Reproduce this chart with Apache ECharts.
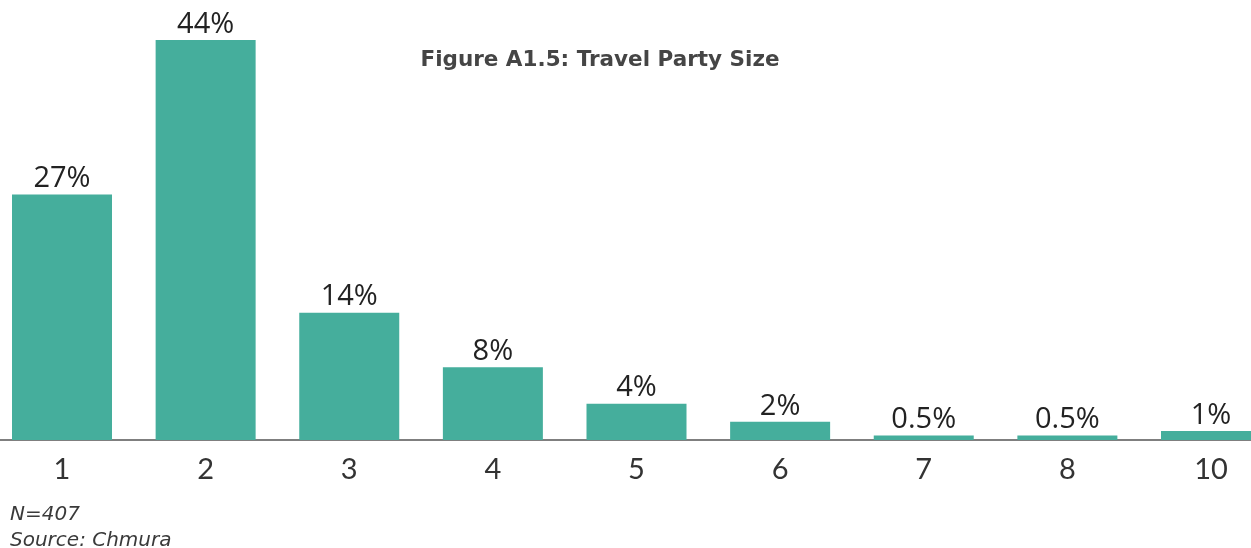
<!DOCTYPE html>
<html>
<head>
<meta charset="utf-8">
<script src="https://cdn.jsdelivr.net/npm/echarts@6/dist/echarts.min.js"></script>
<style>
  html, body { margin: 0; padding: 0; background: #fff; }
  #chart { width: 1251px; height: 548px; }
</style>
</head>
<body>
<div id="chart"></div>
<script>
// Travel party size shares (percent of respondents)
const partySizes = ['1', '2', '3', '4', '5', '6', '7', '8', '10'];
const shares = [27, 44, 14, 8, 4, 2, 0.5, 0.5, 1];
const titleText = 'Figure A1.5: Travel Party Size';
const noteLines = ['N=407', 'Source: Chmura'];

const chart = echarts.init(document.getElementById('chart'));
chart.setOption({
  animation: false,
  title: {
    text: titleText,
    left: 595,
    textAlign: 'center',
    top: 44,
    textStyle: {
      fontFamily: 'DejaVu Sans',
      fontWeight: 'bold',
      fontSize: 21.5,
      color: '#454545'
    }
  },
  graphic: [{
    type: 'text',
    left: 10,
    top: 502,
    style: {
      text: noteLines.join('\n'),
      fontFamily: 'DejaVu Sans',
      fontStyle: 'italic',
      fontSize: 20,
      lineHeight: 26,
      fill: '#3a3a3a'
    }
  }],
  grid: [
    // bars: category centres sit on the ticks, first at left edge, last at right edge
    { left: 62, right: 40, top: 40, height: 400, containLabel: false },
    // full-width baseline
    { left: 0, right: 0, top: 40, height: 400, containLabel: false }
  ],
  xAxis: [{
    type: 'category',
    gridIndex: 0,
    data: partySizes,
    boundaryGap: false,
    axisLine: { show: false },
    axisTick: { show: false },
    axisLabel: {
      margin: 15,
      fontFamily: 'Lato',
      fontSize: 29,
      color: '#333'
    }
  }, {
    type: 'category',
    gridIndex: 1,
    data: [''],
    axisLine: { lineStyle: { color: '#555', width: 1.5 } },
    axisTick: { show: false },
    axisLabel: { show: false }
  }],
  yAxis: [{
    type: 'value',
    gridIndex: 0,
    min: 0,
    max: 44,
    show: false,
    splitLine: { show: false }
  }, {
    type: 'value',
    gridIndex: 1,
    min: 0,
    max: 44,
    show: false,
    splitLine: { show: false }
  }],
  series: [{
    type: 'bar',
    xAxisIndex: 0,
    yAxisIndex: 0,
    data: shares,
    barWidth: 100,
    itemStyle: { color: '#45AE9C' },
    label: {
      show: true,
      position: 'top',
      distance: 1,
      formatter: p => p.value + '%',
      fontFamily: 'Open Sans',
      fontSize: 29,
      color: '#222'
    }
  }]
});
</script>
</body>
</html>
